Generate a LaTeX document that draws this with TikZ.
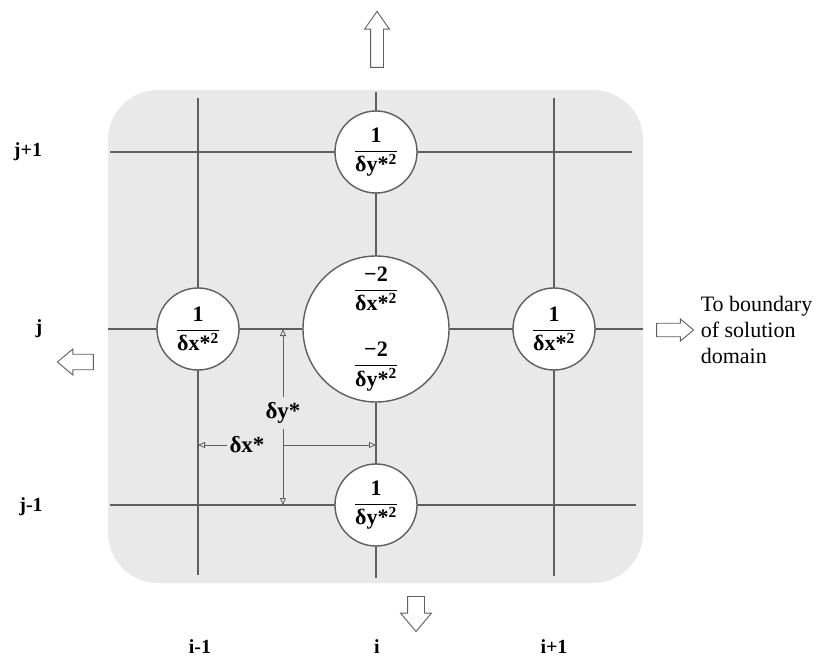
\documentclass[tikz,border=0pt]{standalone}
\usepackage{fontspec}
\setmainfont{Liberation Serif}
\usepackage{amsmath}
\usetikzlibrary{arrows.meta, positioning, shapes.arrows}
\definecolor{gridgray}{RGB}{95,95,95}
\definecolor{paper}{RGB}{233,233,233}

\tikzset{
  gridline/.style={draw=gridgray, line width=1.4pt},
  nodecirc/.style={circle, draw=gridgray, line width=1.4pt, fill=white, inner sep=0pt,
    minimum size=82pt, align=center, font=\fontsize{22}{24}\selectfont\bfseries},
  dimline/.style={draw=gridgray, line width=0.8pt, -{Triangle[open, length=7pt, width=6pt]}},
  dimlabel/.style={fill=paper, inner sep=2pt, font=\fontsize{23}{25}\selectfont\bfseries},
  idxlabel/.style={font=\fontsize{20}{22}\selectfont\bfseries},
  blockarrow/.style={single arrow, draw=gridgray, fill=white, line width=0.9pt, inner sep=0pt},
}
\newcommand{\coef}[2]{$\dfrac{\text{#1}}{\text{#2}}$}
\newcommand{\dsq}[1]{δ#1*\textsuperscript{2}}

\begin{document}
\begin{tikzpicture}[x=1pt, y=-1pt]
  \useasboundingbox (0,0) rectangle (831,658);
  % shaded sheet behind the grid
  \fill[paper, rounded corners=50pt] (108,90) rectangle (643,583);

  % grid lines
  \draw[gridline] (110,152) -- (632,152);
  \draw[gridline] (108,329) -- (643,329);
  \draw[gridline] (110,505) -- (636,505);
  \draw[gridline] (198,98) -- (198,575);
  \draw[gridline] (376,92) -- (376,578);
  \draw[gridline] (554,98) -- (554,576);

  % coefficients at the five nodes
  \node[nodecirc, minimum size=146pt] (pc) at (376,329) {\coef{−2}{\dsq{x}}\\[30pt]\coef{−2}{\dsq{y}}};
  \node[nodecirc] (pn) at (376,152) {\coef{1}{\dsq{y}}};
  \node[nodecirc] (ps) at (376,505) {\coef{1}{\dsq{y}}};
  \node[nodecirc] (pw) at (198,329) {\coef{1}{\dsq{x}}};
  \node[nodecirc] (pe) at (554,329) {\coef{1}{\dsq{x}}};

  % grid spacing
  \coordinate (dytop) at (283,329);
  \coordinate (dybot) at (283,505);
  \coordinate (dxleft) at (198,445);
  \coordinate (dxright) at (376,445);
  \draw[dimline] (dxleft -| dytop) -- (dxright);
  \node[dimlabel] (dx) at (247,445) {δx*};
  \draw[dimline] (dx) -- (dxleft);
  \node[dimlabel, inner ysep=5pt] (dy) at (283,413) {δy*};
  \draw[dimline] (dy) -- (dytop);
  \draw[dimline] (dy) -- (dybot);

  % outflow arrows
  \node[blockarrow, rotate=90, minimum height=56pt, minimum width=24pt,
    single arrow head extend=6pt, single arrow tip angle=70] (outn) at (377,44) {\rule{0pt}{12pt}};
  \node[blockarrow, rotate=-90, minimum height=35pt, minimum width=30pt,
    single arrow head extend=7pt, single arrow tip angle=80] (outs) at (416,609) {\rule{0pt}{16pt}};
  \node[blockarrow, rotate=180, minimum height=36pt, minimum width=26pt,
    single arrow head extend=5pt, single arrow tip angle=80] (outw) at (80,362) {\rule{0pt}{14pt}};
  \node[blockarrow, minimum height=37pt, minimum width=22pt,
    single arrow head extend=4pt, single arrow tip angle=80] (oute) at (671,330) {\rule{0pt}{12pt}};
  \node[right=3pt of oute, align=left, font=\fontsize{22}{26}\selectfont] (bnd)
    {To boundary\\of solution\\domain};

  % indices
  \node[idxlabel] (jp) at (28,152) {j+1};
  \node[idxlabel] (j0) at (39,329) {j};
  \node[idxlabel] (jm) at (31,507) {j-1};
  \node[idxlabel] (im) at (200,647) {i-1};
  \node[idxlabel] (i0) at (377,647) {i};
  \node[idxlabel] (ip) at (554,647) {i+1};
\end{tikzpicture}
\end{document}
